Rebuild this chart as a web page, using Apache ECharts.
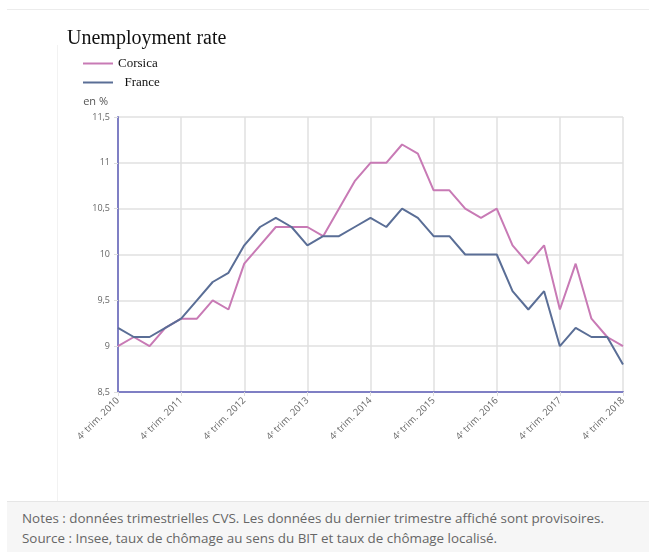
<!DOCTYPE html>
<html>
<head>
<meta charset="utf-8">
<script src="https://cdn.jsdelivr.net/npm/echarts@6/dist/echarts.min.js"></script>
<style>
  html, body { margin: 0; padding: 0; background: #fff; }
  #wrap { position: relative; width: 649px; height: 552px; overflow: hidden; }
  #topline { position: absolute; left: 7px; top: 9px; width: 642px; height: 1px; background: #ececec; }
  #sideline { position: absolute; left: 57px; top: 45px; width: 1px; height: 456px; background: #f2f2f2; }
  #chart { position: absolute; left: 0; top: 0; width: 649px; height: 500px; }
  #notes {
    position: absolute; left: 7px; top: 501px; width: 642px; height: 51px;
    background: #f6f6f6; border-top: 1px solid #e6e6e6;
    font-family: "Open Sans", sans-serif; font-size: 13.4px; color: #666;
    box-sizing: border-box; padding: 6px 0 0 15px; line-height: 20px;
  }
</style>
</head>
<body>
<div id="wrap">
  <div id="topline"></div>
  <div id="sideline"></div>
  <div id="chart"></div>
  <div id="notes">
    Notes : données trimestrielles CVS. Les données du dernier trimestre affiché sont provisoires.<br>
    Source : Insee, taux de chômage au sens du BIT et taux de chômage localisé.
  </div>
</div>
<script>
// Quarters from 4e trim. 2010 to 4e trim. 2018
const years = [2011, 2012, 2013, 2014, 2015, 2016, 2017, 2018]
const quarters = ['4ᵉ trim. 2010']
years.forEach(y => {
  quarters.push('1er trim. ' + y, '2ᵉ trim. ' + y, '3ᵉ trim. ' + y, '4ᵉ trim. ' + y)
})

const corsica = [9.0, 9.1, 9.0, 9.2, 9.3, 9.3, 9.5, 9.4, 9.9, 10.1, 10.3, 10.3, 10.3, 10.2, 10.5, 10.8,
  11.0, 11.0, 11.2, 11.1, 10.7, 10.7, 10.5, 10.4, 10.5, 10.1, 9.9, 10.1, 9.4, 9.9, 9.3, 9.1, 9.0]
const france = [9.2, 9.1, 9.1, 9.2, 9.3, 9.5, 9.7, 9.8, 10.1, 10.3, 10.4, 10.3, 10.1, 10.2, 10.2, 10.3,
  10.4, 10.3, 10.5, 10.4, 10.2, 10.2, 10.0, 10.0, 10.0, 9.6, 9.4, 9.6, 9.0, 9.2, 9.1, 9.1, 8.8]

const chart = echarts.init(document.getElementById('chart'))

const options = {
  animation: false,
  title: {
    text: 'Unemployment rate',
    left: 62,
    top: 24,
    textStyle: {
      fontFamily: 'Liberation Serif',
      fontWeight: 'normal',
      fontSize: 20,
      color: '#111'
    }
  },
  legend: {
    orient: 'vertical',
    left: 78,
    top: 52,
    itemWidth: 30,
    itemHeight: 12,
    itemGap: 6,
    icon: 'path://M0,5L30,5L30,7L0,7Z',
    formatter: name => name === 'France' ? '  ' + name : name,
    textStyle: { fontFamily: 'Liberation Serif', fontSize: 13, color: '#111' },
    data: ['Corsica', 'France']
  },
  grid: { left: 118, right: 26, top: 117, bottom: 108 },
  xAxis: {
    type: 'category',
    data: quarters,
    boundaryGap: false,
    axisLine: { lineStyle: { color: '#7f7fc4', width: 2 } },
    axisTick: { show: true, interval: 3, length: 4, lineStyle: { color: '#ddd' } },
    axisLabel: {
      interval: 3,
      rotate: 45,
      fontSize: 9.5,
      color: '#666',
      fontFamily: 'Open Sans',
      margin: 7
    },
    splitLine: { show: true, interval: 3, lineStyle: { color: '#e0e0e0', width: 1.5 } }
  },
  yAxis: {
    type: 'value',
    min: 8.5,
    max: 11.5,
    interval: 0.5,
    name: 'en %',
    nameLocation: 'end',
    nameGap: 10,
    nameTextStyle: { align: 'right', padding: [0, 10, 0, 0], fontSize: 11, color: '#555', fontFamily: 'Open Sans' },
    axisLine: { show: true, lineStyle: { color: '#7f7fc4', width: 2 } },
    axisTick: { show: true, length: 4, lineStyle: { color: '#ddd' } },
    axisLabel: {
      fontSize: 9,
      color: '#666',
      fontFamily: 'Open Sans',
      margin: 8,
      formatter: v => String(v).replace('.', ',')
    },
    splitLine: { lineStyle: { color: '#e0e0e0', width: 1.5 } }
  },
  series: [
    {
      name: 'Corsica',
      type: 'line',
      data: corsica,
      symbol: 'none',
      color: '#c87ab5',
      lineStyle: { width: 2 }
    },
    {
      name: 'France',
      type: 'line',
      data: france,
      symbol: 'none',
      color: '#5a6e96',
      lineStyle: { width: 2 }
    }
  ]
}
chart.setOption(options)
</script>
</body>
</html>
